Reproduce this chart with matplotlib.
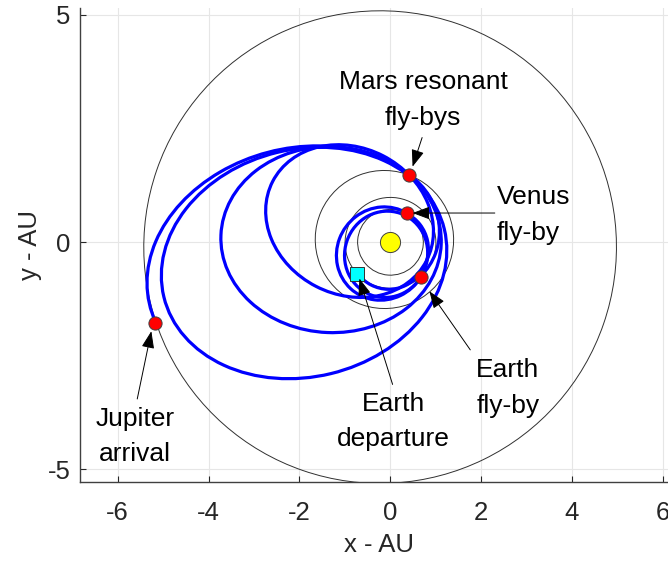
"""Heliocentric trajectory: Earth departure, Venus/Earth/Mars fly-bys, Jupiter arrival.

Each leg is a Keplerian conic with the Sun at the focus, given by its
semi-major axis, eccentricity, argument of perihelion and the true anomaly
range flown. Planet orbits use the same elements (full ellipses).
"""

import matplotlib

matplotlib.use("Agg")
import matplotlib.pyplot as plt  # noqa: E402
import numpy as np  # noqa: E402
from matplotlib.patches import Arc, Ellipse  # noqa: E402

# planet orbits (AU, -, deg)
orbit_names = ["Venus", "Earth", "Mars", "Jupiter"]
orbit_a = [0.723, 1.000, 1.524, 5.203]
orbit_e = [0.007, 0.017, 0.093, 0.048]
orbit_w = [131.0, 103.0, 336.0, 26.0]

# trajectory legs: D->V, V->E, E->E, E->M, M->M x3, M->J
leg_a = [0.880, 1.041, 0.954, 1.492, 1.904, 2.426, 3.175, 3.361]
leg_e = [0.182, 0.295, 0.2975, 0.330, 0.530, 0.538, 0.615, 0.629]
leg_w = [80.0, 55.0, 71.0, 320.0, -27.3, -2.4, 13.6, 15.2]
leg_nu0 = [144.0, 5.6, 0.0, -9.0, 0.0, 0.0, 0.0, 59.3]
leg_nu1 = [340.6, 256.0, 360.0, 114.5, 360.0, 360.0, 360.0, 183.7]

# fly-by / arrival points (AU)
flyby_names = ["Jupiter", "Mars", "Venus", "Earth"]
flyby_x = [-5.17, 0.41, 0.36, 0.67]
flyby_y = [-1.77, 1.48, 0.64, -0.77]
depart_x = [-0.73]
depart_y = [-0.70]
sun_x = [0.0]
sun_y = [0.0]

# annotations: text, text anchor, arrow tail, arrow tip (AU)
notes = [
    ("Mars resonant\nfly-bys", "center", (0.72, 3.13), (0.70, 2.30), (0.49, 1.66)),
    ("Venus\nfly-by", "left", (2.35, 0.60), (2.30, 0.64), (0.49, 0.64)),
    ("Earth\nfly-by", "center", (2.59, -3.21), (1.76, -2.37), (0.86, -1.08)),
    ("Earth\ndeparture", "center", (0.06, -3.94), (0.05, -3.13), (-0.68, -0.80)),
    ("Jupiter\narrival", "center", (-5.62, -4.27), (-5.57, -3.45), (-5.26, -1.96)),
]

x_ticks = [-6, -4, -2, 0, 2, 4, 6]
y_ticks = [-5, 0, 5]

FONT = ["Liberation Sans", "DejaVu Sans"]


def conic_patch(a, e, w, nu0=0.0, nu1=360.0, **kw):
    """Ellipse/Arc patch for a focus-centred conic (Sun at origin)."""
    b = a * np.sqrt(1 - e**2)
    wr = np.radians(w)
    centre = (-a * e * np.cos(wr), -a * e * np.sin(wr))
    if nu1 - nu0 >= 360:
        return Ellipse(centre, 2 * a, 2 * b, angle=w, fill=False, **kw)

    def from_centre(nu):
        # polar angle of the point as seen from the ellipse centre
        nu = np.radians(nu)
        r = a * (1 - e**2) / (1 + e * np.cos(nu))
        return np.degrees(np.arctan2(r * np.sin(nu), r * np.cos(nu) + a * e))

    return Arc(centre, 2 * a, 2 * b, angle=w,
               theta1=from_centre(nu0), theta2=from_centre(nu1), **kw)


def main():
    plt.rcParams["font.family"] = FONT
    plt.rcParams["axes.unicode_minus"] = False

    fig = plt.figure(figsize=(6.68, 5.63), dpi=100)
    ax = fig.add_axes([80 / 668, 81.3 / 563, 597 / 668, 473.7 / 563])

    for a, e, w in zip(orbit_a, orbit_e, orbit_w):
        ax.add_patch(conic_patch(a, e, w, edgecolor="#303030", lw=0.7, zorder=2))

    for a, e, w, n0, n1 in zip(leg_a, leg_e, leg_w, leg_nu0, leg_nu1):
        ax.add_patch(conic_patch(a, e, w, n0, n1, edgecolor="#0000ff", lw=2.3, zorder=3))

    ax.plot(sun_x, sun_y, "o", ms=14.5, mfc="#ffff00", mec="#404040", mew=0.7, zorder=4)
    ax.plot(flyby_x, flyby_y, "o", ms=9.5, mfc="#ff0000", mec="#404040", mew=0.7,
            ls="none", zorder=4)
    ax.plot(depart_x, depart_y, "s", ms=9.5, mfc="#00ffff", mec="#303030", mew=0.7,
            zorder=4)

    for text, ha, txy, tail, tip in notes:
        ax.text(txy[0], txy[1], text, ha=ha, va="center", multialignment=ha,
                fontsize=19, linespacing=1.6, color="k", zorder=5)
        ax.annotate("", xy=tip, xytext=tail,
                    arrowprops=dict(arrowstyle="-|>,head_length=0.75,head_width=0.28",
                                    color="k", lw=0.7, shrinkA=0, shrinkB=0,
                                    mutation_scale=14),
                    zorder=5)

    ax.set_xlim(-6.83, 6.31)
    ax.set_ylim(-5.27, 5.15)
    ax.set_xticks(x_ticks)
    ax.set_yticks(y_ticks)
    ax.set_xticklabels([str(t) for t in x_ticks])
    ax.set_yticklabels([str(t) for t in y_ticks])
    ax.tick_params(direction="in", length=4, width=0.8, colors="#262626",
                   labelsize=18.5)
    ax.tick_params(axis="x", pad=14)
    ax.tick_params(axis="y", pad=7)
    ax.set_xlabel("x - AU", fontsize=18.5, color="#262626", labelpad=6)
    ax.set_ylabel("y - AU", fontsize=18.5, color="#262626", labelpad=4)

    for side in ("top", "right"):
        ax.spines[side].set_visible(False)
    for side in ("left", "bottom"):
        ax.spines[side].set_color("#404040")
        ax.spines[side].set_linewidth(1.0)
    ax.grid(True, color="#e6e6e6", lw=0.8)
    ax.set_axisbelow(True)

    fig.savefig("out.png", dpi=100)
    plt.close(fig)


if __name__ == "__main__":
    main()
